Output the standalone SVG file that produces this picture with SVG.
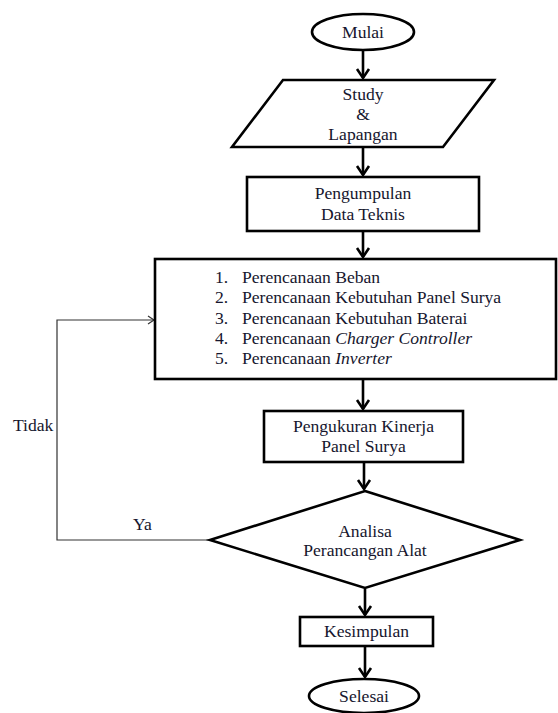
<svg xmlns="http://www.w3.org/2000/svg" width="558" height="713" viewBox="0 0 558 713">
<style>
  .shape { fill: #ffffff; stroke: #000000; stroke-width: 2.6; stroke-linejoin: miter; }
  text { font-family: 'Liberation Serif', 'Times New Roman', serif; font-size: 16px; fill: #16162e; }
  .mid { text-anchor: middle; }
  .conn { fill: none; stroke: #000000; stroke-width: 2.6; }
  .loop { fill: none; stroke: #333333; stroke-width: 1.2; }
  .it { font-style: italic; }
</style>
<defs>
  <marker id="arrow" markerUnits="userSpaceOnUse" markerWidth="24" markerHeight="24" viewBox="-12 -12 24 24" refX="0" refY="0" orient="auto">
    <path d="M-9,-6 L0,0 L-9,6" fill="none" stroke="#000000" stroke-width="2.6"/>
  </marker>
  <marker id="arrowThin" markerUnits="userSpaceOnUse" markerWidth="16" markerHeight="16" viewBox="-8 -8 16 16" refX="0" refY="0" orient="auto">
    <path d="M-6,-4 L0,0 L-6,4" fill="none" stroke="#333333" stroke-width="1.2"/>
  </marker>
</defs>
<rect width="558" height="713" fill="#ffffff"/>

<g font-family="Liberation Serif, Times New Roman, serif">
<g id="connectors">
  <line class="conn" x1="363" y1="51" x2="363" y2="78" marker-end="url(#arrow)"/>
  <line class="conn" x1="363" y1="148" x2="363" y2="175" marker-end="url(#arrow)"/>
  <line class="conn" x1="363" y1="232" x2="363" y2="257" marker-end="url(#arrow)"/>
  <line class="conn" x1="363" y1="380" x2="363" y2="409" marker-end="url(#arrow)"/>
  <line class="conn" x1="364" y1="463" x2="364" y2="489" marker-end="url(#arrow)"/>
  <line class="conn" x1="365" y1="589" x2="365" y2="615" marker-end="url(#arrow)"/>
  <line class="conn" x1="365" y1="647" x2="365" y2="677" marker-end="url(#arrow)"/>
  <polyline class="loop" points="210,540 57,540 57,320 154,320" marker-end="url(#arrowThin)"/>
  <text transform="translate(13,431) scale(1.1,1)">Tidak</text>
  <text transform="translate(133,530) scale(1.1,1)">Ya</text>
</g>

<g id="mulai">
  <ellipse class="shape" cx="363" cy="32" rx="51" ry="18"/>
  <text class="mid" transform="translate(363,38) scale(1.1,1)">Mulai</text>
</g>

<g id="study">
  <polygon class="shape" points="283,80 494,80 443,147 232,147"/>
  <text class="mid" transform="translate(363,100) scale(1.1,1)">Study</text>
  <text class="mid" transform="translate(363,120) scale(1.1,1)">&amp;</text>
  <text class="mid" transform="translate(363,140) scale(1.1,1)">Lapangan</text>
</g>

<g id="pengumpulan">
  <rect class="shape" x="247" y="177" width="232" height="54"/>
  <text class="mid" transform="translate(363,199) scale(1.1,1)">Pengumpulan</text>
  <text class="mid" transform="translate(363,220) scale(1.1,1)">Data Teknis</text>
</g>

<g id="perencanaan">
  <rect class="shape" x="155" y="259" width="401" height="120"/>
  <text transform="translate(215,283) scale(1.1,1)">1.</text>
  <text transform="translate(242,283) scale(1.1,1)">Perencanaan Beban</text>
  <text transform="translate(215,303) scale(1.1,1)">2.</text>
  <text transform="translate(242,303) scale(1.1,1)">Perencanaan Kebutuhan Panel Surya</text>
  <text transform="translate(215,324) scale(1.1,1)">3.</text>
  <text transform="translate(242,324) scale(1.1,1)">Perencanaan Kebutuhan Baterai</text>
  <text transform="translate(215,344) scale(1.1,1)">4.</text>
  <text transform="translate(242,344) scale(1.1,1)">Perencanaan <tspan class="it">Charger Controller</tspan></text>
  <text transform="translate(215,364) scale(1.1,1)">5.</text>
  <text transform="translate(242,364) scale(1.1,1)">Perencanaan <tspan class="it">Inverter</tspan></text>
</g>

<g id="pengukuran">
  <rect class="shape" x="264" y="411" width="199" height="51"/>
  <text class="mid" transform="translate(363.5,432) scale(1.1,1)">Pengukuran Kinerja</text>
  <text class="mid" transform="translate(363.5,452) scale(1.1,1)">Panel Surya</text>
</g>

<g id="analisa">
  <polygon class="shape" points="365,491 520,540 365,588 210,540"/>
  <text class="mid" transform="translate(365,537) scale(1.1,1)">Analisa</text>
  <text class="mid" transform="translate(365,556) scale(1.1,1)">Perancangan Alat</text>
</g>

<g id="kesimpulan">
  <rect class="shape" x="300" y="617" width="133" height="29"/>
  <text class="mid" transform="translate(366.5,637) scale(1.1,1)">Kesimpulan</text>
</g>

<g id="selesai">
  <ellipse class="shape" cx="364" cy="696" rx="55" ry="17"/>
  <text class="mid" transform="translate(364,702) scale(1.1,1)">Selesai</text>
</g>
</g>
</svg>
